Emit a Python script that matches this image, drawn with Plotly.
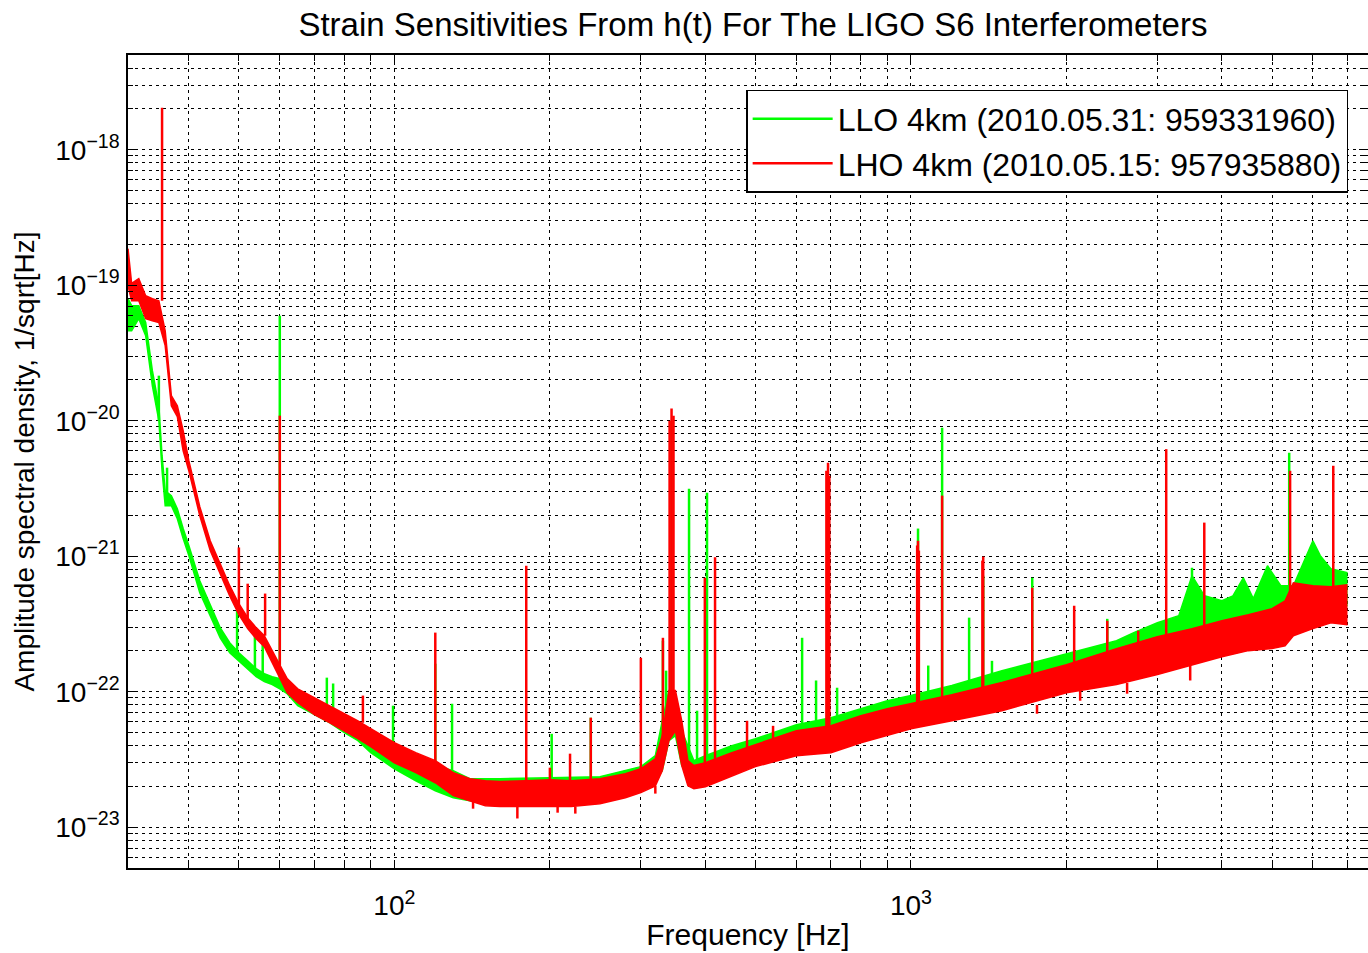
import math
import plotly.graph_objects as go

# ---------------- text ----------------
title_text = "Strain Sensitivities From h(t) For The LIGO S6 Interferometers"
x_title = "Frequency [Hz]"
y_title = "Amplitude spectral density, 1/sqrt[Hz]"
llo_name = "LLO 4km (2010.05.31: 959331960)"
lho_name = "LHO 4km (2010.05.15: 957935880)"

# ---------------- LLO (green) noise band: upper / lower edge ----------------
llo_freq = [30.5, 31, 32, 33, 34, 35, 35.5, 36, 37, 38,
            39, 40, 42, 44, 46, 48, 50, 52, 54, 56,
            58, 60, 62, 65, 70, 75, 80, 85, 90, 100,
            110, 120, 130, 140, 160, 200, 250, 300, 320, 330,
            340, 350, 360, 380, 400, 450, 500, 600, 700, 800,
            900, 1000, 1200, 1500, 2000, 2500, 2700, 3000, 3300, 3500,
            3700, 4000, 4200, 4400, 4600, 4900, 5200, 5500, 6000, 6200,
            6500, 7000]
llo_upper = [7.95e-20, 7.06e-20, 7.06e-20, 5.30e-20, 2.34e-20, 1.29e-20, 5.52e-21, 3.04e-21, 2.80e-21, 2.24e-21,
             1.60e-21, 1.20e-21, 6.58e-22, 4.31e-22, 2.97e-22, 2.30e-22, 1.94e-22, 1.69e-22, 1.48e-22, 1.36e-22,
             1.29e-22, 1.25e-22, 1.15e-22, 9.67e-23, 8.29e-23, 7.49e-23, 6.33e-23, 5.70e-23, 4.73e-23, 3.79e-23,
             3.20e-23, 2.85e-23, 2.61e-23, 2.28e-23, 2.28e-23, 2.32e-23, 2.36e-23, 2.80e-23, 3.37e-23, 6.10e-23,
             1.02e-22, 8.58e-23, 5.15e-23, 3.10e-23, 3.37e-23, 3.99e-23, 4.50e-23, 5.70e-23, 6.43e-23, 7.49e-23,
             8.58e-23, 9.36e-23, 1.11e-22, 1.43e-22, 1.91e-22, 2.38e-22, 2.73e-22, 3.23e-22, 3.64e-22, 7.18e-22,
             5.10e-22, 4.69e-22, 5.10e-22, 6.93e-22, 4.86e-22, 8.50e-22, 6.06e-22, 6.06e-22, 1.30e-21, 1.01e-21,
             8.08e-22, 7.55e-22]
llo_lower = [4.61e-20, 4.61e-20, 5.66e-20, 4.24e-20, 1.81e-20, 1.00e-20, 4.27e-21, 2.36e-21, 2.36e-21, 1.89e-21,
             1.35e-21, 1.01e-21, 5.37e-22, 3.64e-22, 2.50e-22, 1.94e-22, 1.69e-22, 1.48e-22, 1.29e-22, 1.19e-22,
             1.13e-22, 1.05e-22, 9.67e-23, 7.89e-23, 6.77e-23, 5.90e-23, 4.98e-23, 4.35e-23, 3.55e-23, 2.70e-23,
             2.20e-23, 1.86e-23, 1.65e-23, 1.57e-23, 1.57e-23, 1.57e-23, 1.63e-23, 1.86e-23, 2.20e-23, 2.61e-23,
             4.35e-23, 4.73e-23, 2.85e-23, 2.02e-23, 2.13e-23, 2.53e-23, 2.99e-23, 3.67e-23, 3.99e-23, 4.50e-23,
             5.15e-23, 5.90e-23, 6.98e-23, 8.58e-23, 1.11e-22, 1.38e-22, 1.56e-22, 1.56e-22, 1.84e-22, 2.38e-22,
             2.38e-22, 2.38e-22, 2.59e-22, 2.82e-22, 2.82e-22, 3.07e-22, 3.34e-22, 3.64e-22, 4.31e-22, 4.31e-22,
             4.31e-22, 4.31e-22]

# LLO spectral lines
llo_line_freq = [35.0, 36.3, 49.6, 53.7, 55.6, 60, 74.0, 76.1, 99.4, 120,
                 129.3, 201.6, 240, 331, 335.7, 344, 371.9, 385.4, 402.9, 615.6,
                 655.1, 691, 719.5, 1032, 1080, 1149, 1296, 1380, 1435, 1717,
                 2399, 3500, 5398]
llo_line_peak = [2.15e-20, 4.50e-21, 3.96e-22, 2.68e-22, 2.38e-22, 5.95e-20, 1.27e-22, 1.15e-22, 7.89e-23, 1.61e-22,
                 8.15e-23, 4.89e-23, 6.43e-23, 2.38e-22, 1.43e-22, 1.00e-20, 3.15e-21, 7.24e-23, 2.94e-21, 2.50e-22,
                 1.21e-22, 2.94e-21, 1.07e-22, 1.60e-21, 1.56e-22, 8.88e-21, 3.52e-22, 7.18e-22, 1.69e-22, 6.93e-22,
                 3.45e-22, 8.22e-22, 5.80e-21]
llo_line_base = [1.00e-20, 2.57e-21, 1.84e-22, 1.43e-22, 1.31e-22, 1.11e-22, 7.49e-23, 7.24e-23, 3.67e-23, 2.61e-23,
                 2.40e-23, 2.20e-23, 2.20e-23, 4.35e-23, 4.35e-23, 8.58e-23, 2.85e-23, 2.85e-23, 2.85e-23, 5.60e-23,
                 5.90e-23, 5.90e-23, 6.10e-23, 8.58e-23, 8.80e-23, 9.36e-23, 1.02e-22, 1.02e-22, 1.05e-22, 1.21e-22,
                 1.56e-22, 3.34e-22, 4.31e-22]

# ---------------- LHO (red) noise band ----------------
lho_freq = [30.5, 31, 32, 33, 34, 35, 36, 37, 38, 39,
            40, 42, 44, 46, 48, 50, 52, 54, 56, 58,
            60, 62, 65, 70, 75, 80, 85, 90, 100, 110,
            120, 130, 140, 150, 160, 180, 200, 220, 250, 280,
            300, 320, 330, 340, 350, 360, 370, 380, 400, 450,
            500, 600, 700, 800, 900, 1000, 1200, 1500, 2000, 2500,
            3000, 3500, 4000, 4500, 5000, 5300, 5500, 6000, 6500, 7000]
lho_upper = [1.86e-19, 1.03e-19, 1.12e-19, 8.36e-20, 7.95e-20, 7.68e-20, 4.61e-20, 1.53e-20, 1.29e-20, 8.43e-21,
             5.07e-21, 2.32e-21, 1.30e-21, 8.80e-22, 6.06e-22, 4.46e-22, 3.52e-22, 2.97e-22, 2.59e-22, 2.01e-22,
             1.56e-22, 1.25e-22, 1.05e-22, 9.03e-23, 7.89e-23, 6.88e-23, 6.10e-23, 5.33e-23, 4.20e-23, 3.55e-23,
             3.10e-23, 2.53e-23, 2.28e-23, 2.20e-23, 2.17e-23, 2.20e-23, 2.24e-23, 2.20e-23, 2.28e-23, 2.48e-23,
             2.70e-23, 3.20e-23, 4.73e-23, 1.02e-22, 1.02e-22, 6.10e-23, 3.10e-23, 2.85e-23, 2.99e-23, 3.55e-23,
             4.06e-23, 5.15e-23, 5.60e-23, 6.65e-23, 7.49e-23, 8.15e-23, 9.50e-23, 1.17e-22, 1.58e-22, 2.08e-22,
             2.55e-22, 2.92e-22, 3.34e-22, 3.70e-22, 4.10e-22, 4.69e-22, 6.37e-22, 6.06e-22, 5.95e-22, 6.17e-22]
lho_lower = [9.90e-20, 7.68e-20, 7.68e-20, 5.66e-20, 5.47e-20, 5.30e-20, 3.58e-20, 1.29e-20, 1.07e-20, 6.00e-21,
             4.27e-21, 1.99e-21, 1.10e-21, 7.43e-22, 5.10e-22, 3.70e-22, 2.92e-22, 2.46e-22, 2.15e-22, 1.64e-22,
             1.27e-22, 9.83e-23, 8.29e-23, 6.77e-23, 5.90e-23, 5.15e-23, 4.50e-23, 3.93e-23, 2.99e-23, 2.53e-23,
             2.13e-23, 1.71e-23, 1.57e-23, 1.44e-23, 1.42e-23, 1.42e-23, 1.42e-23, 1.42e-23, 1.49e-23, 1.65e-23,
             1.80e-23, 2.02e-23, 2.61e-23, 4.35e-23, 5.15e-23, 2.85e-23, 2.02e-23, 1.92e-23, 1.99e-23, 2.40e-23,
             2.80e-23, 3.37e-23, 3.55e-23, 4.20e-23, 4.73e-23, 5.33e-23, 6.10e-23, 7.24e-23, 9.83e-23, 1.13e-22,
             1.34e-22, 1.58e-22, 1.81e-22, 2.01e-22, 2.08e-22, 2.18e-22, 2.59e-22, 2.92e-22, 3.23e-22, 3.12e-22]

# LHO spectral lines (the last entries are the short dips below the noise floor)
lho_line_freq = [35.5, 50, 52, 56.2, 60, 86.9, 120, 180, 218.8, 240,
                 300, 331, 341, 344, 347, 399, 417.6, 481.6, 540.8, 686,
                 691, 695, 1028, 1032, 1036, 1149, 1375, 1380, 1717, 2070,
                 2399, 2754, 3120, 3697, 5420, 6570,
                 142, 173, 207, 224, 320, 200, 1754, 2126, 2621, 3472]
lho_line_peak = [2.04e-18, 1.16e-21, 6.27e-22, 5.30e-22, 1.09e-20, 9.36e-23, 2.73e-22, 8.50e-22, 3.49e-23, 6.43e-23,
                 1.78e-22, 2.50e-22, 1.00e-20, 1.23e-20, 1.09e-20, 6.93e-22, 9.83e-22, 6.10e-23, 5.60e-23, 4.27e-21,
                 4.89e-21, 3.93e-21, 1.20e-21, 1.30e-21, 1.10e-21, 2.80e-21, 9.28e-22, 9.93e-22, 5.85e-22, 4.31e-22,
                 3.34e-22, 2.82e-22, 6.17e-21, 1.77e-21, 4.27e-21, 4.65e-21,
                 1.37e-23, 1.16e-23, 1.28e-23, 1.26e-23, 1.77e-23, 2.75e-23, 6.88e-23, 8.58e-23, 9.67e-23, 1.21e-22]
lho_line_base = [7.68e-20, 4.31e-22, 3.34e-22, 2.59e-22, 1.56e-22, 5.90e-23, 2.99e-23, 2.13e-23, 2.13e-23, 2.20e-23,
                 2.61e-23, 4.35e-23, 8.58e-23, 8.58e-23, 8.58e-23, 2.85e-23, 2.85e-23, 3.55e-23, 3.79e-23, 4.73e-23,
                 4.73e-23, 4.73e-23, 7.24e-23, 7.24e-23, 7.24e-23, 8.58e-23, 8.58e-23, 8.58e-23, 1.02e-22, 1.21e-22,
                 1.43e-22, 1.56e-22, 2.01e-22, 2.38e-22, 3.96e-22, 4.69e-22,
                 1.57e-23, 1.42e-23, 1.42e-23, 1.42e-23, 2.02e-23, 2.24e-23, 8.00e-23, 1.02e-22, 1.16e-22, 1.55e-22]

# ---------------- axes ----------------
x_range_hz = [30.5, 7670]
y_range = [5e-24, 5e-18]
x_tick_vals = [100, 1000]
x_tick_text = ["10<sup>2</sup>", "10<sup>3</sup>"]
y_tick_vals = [1e-23, 1e-22, 1e-21, 1e-20, 1e-19, 1e-18]
y_tick_text = ["10<sup>\u221223</sup>", "10<sup>\u221222</sup>", "10<sup>\u221221</sup>",
               "10<sup>\u221220</sup>", "10<sup>\u221219</sup>", "10<sup>\u221218</sup>"]
x_minor_ticks = [40, 50, 60, 70, 80, 90, 200, 300, 400, 500, 600, 700, 800, 900,
                 2000, 3000, 4000, 5000, 6000, 7000]
y_minor_mant = [2, 3, 4, 5, 6, 7, 8, 9]
y_minor_exp = [-24, -23, -22, -21, -20, -19, -18]
y_minor_ticks = [m * 10.0 ** e for e in y_minor_exp for m in y_minor_mant]

GREEN = "#00ff00"
RED = "#ff0000"
FONT = "Liberation Sans, Arial, Helvetica, sans-serif"


def lines_xy(freqs, bases, peaks):
    xs, ys = [], []
    for f, b, p in zip(freqs, bases, peaks):
        xs += [f, f, None]
        ys += [b, p, None]
    return xs, ys


fig = go.Figure()

for name, color, fr, up, lo, lf, lb, lp in [
    (llo_name, GREEN, llo_freq, llo_upper, llo_lower, llo_line_freq, llo_line_base, llo_line_peak),
    (lho_name, RED, lho_freq, lho_upper, lho_lower, lho_line_freq, lho_line_base, lho_line_peak),
]:
    fig.add_trace(go.Scatter(x=fr, y=up, mode="lines", line=dict(color=color, width=1.5),
                             showlegend=False, hoverinfo="skip"))
    fig.add_trace(go.Scatter(x=fr, y=lo, mode="lines", line=dict(color=color, width=1.5),
                             fill="tonexty", fillcolor=color, showlegend=False, hoverinfo="skip"))
    sx, sy = lines_xy(lf, lb, lp)
    fig.add_trace(go.Scatter(x=sx, y=sy, mode="lines", line=dict(color=color, width=2.5),
                             name=name, showlegend=True, connectgaps=False))

grid_common = dict(showgrid=True, gridcolor="#000000", gridwidth=1, griddash="3px,4px")

fig.update_xaxes(
    type="log",
    range=[math.log10(x_range_hz[0]), math.log10(x_range_hz[1])],
    tickmode="array", tickvals=x_tick_vals, ticktext=x_tick_text,
    ticks="inside", ticklen=8, tickwidth=1, tickcolor="black",
    showline=True, linecolor="black", linewidth=1.5, mirror="allticks",
    tickfont=dict(family=FONT, size=28, color="black"),
    ticklabelstandoff=12,
    minor=dict(tickmode="array", tickvals=x_minor_ticks, ticks="inside", ticklen=6,
               tickcolor="black", **grid_common),
    title=dict(text=x_title, font=dict(family=FONT, size=30, color="black"), standoff=4),
    automargin=False,
    **grid_common,
)
fig.update_yaxes(
    type="log",
    range=[math.log10(y_range[0]), math.log10(y_range[1])],
    tickmode="array", tickvals=y_tick_vals, ticktext=y_tick_text,
    ticks="inside", ticklen=9, tickwidth=1, tickcolor="black",
    showline=True, linecolor="black", linewidth=1.5, mirror="allticks",
    tickfont=dict(family=FONT, size=28, color="black"),
    ticklabelstandoff=1,
    minor=dict(tickmode="array", tickvals=y_minor_ticks, ticks="inside", ticklen=5,
               tickcolor="black", **grid_common),
    title=dict(text=y_title, font=dict(family=FONT, size=28, color="black"), standoff=12),
    automargin=False,
    **grid_common,
)

fig.update_layout(
    width=1368, height=953,
    margin=dict(l=128, r=0, t=55, b=85),
    paper_bgcolor="white", plot_bgcolor="white",
    title=dict(text=title_text, font=dict(family=FONT, size=33, color="black"),
               x=0.504, xref="paper", xanchor="center",
               y=1 - 24 / 953, yref="container", yanchor="middle"),
    legend=dict(x=0.984, y=0.957, xanchor="right", yanchor="top",
                bgcolor="white", bordercolor="black", borderwidth=1.5,
                font=dict(family=FONT, size=32, color="black"),
                itemwidth=80, tracegroupgap=0, traceorder="normal"),
    showlegend=True,
)

fig.write_html("out.html",
               config={"displayModeBar": False},
               post_script="document.body.style.margin='0px';document.body.style.overflow='hidden';")
